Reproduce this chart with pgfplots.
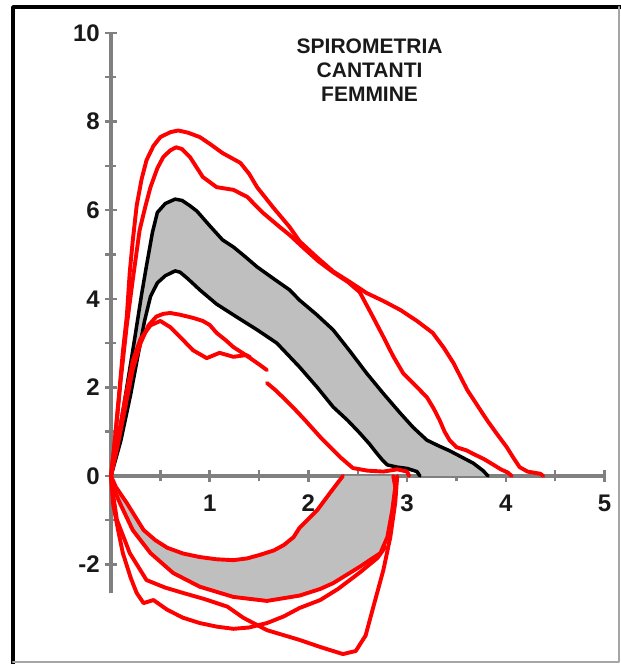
\documentclass[border=0pt]{standalone}
\usepackage{pgfplots}
\pgfplotsset{compat=1.18}
\usepackage{pgfplotstable}
\usepgfplotslibrary{fillbetween}
\usepackage{fontspec}
\setmainfont{Liberation Sans}

\definecolor{band}{RGB}{191,191,191}
\definecolor{axisgray}{RGB}{128,128,128}
\definecolor{loopred}{RGB}{255,0,0}

% expiratory band: upper and lower limit
\pgfplotstableread{
x y
0 0
0.08 0.9
0.16 2.0
0.24 3.1
0.31 4.1
0.36 4.75
0.42 5.5
0.47 5.95
0.55 6.15
0.65 6.25
0.72 6.22
0.80 6.10
0.87 5.98
1.00 5.65
1.13 5.33
1.24 5.17
1.36 4.95
1.48 4.72
1.65 4.45
1.81 4.20
1.91 3.97
2.08 3.65
2.25 3.30
2.42 2.82
2.59 2.32
2.76 1.86
2.93 1.42
3.06 1.10
3.20 0.81
3.32 0.68
3.43 0.57
3.55 0.43
3.67 0.29
3.77 0.12
3.82 0
}\expUpper

\pgfplotstableread{
x y
0 0
0.10 0.8
0.20 1.85
0.28 2.8
0.34 3.5
0.40 4.05
0.47 4.36
0.55 4.52
0.65 4.63
0.70 4.60
0.78 4.45
0.90 4.20
1.07 3.88
1.28 3.58
1.48 3.30
1.68 3.00
1.91 2.46
2.09 2.00
2.25 1.56
2.40 1.25
2.52 0.97
2.62 0.72
2.69 0.52
2.75 0.36
2.80 0.25
2.90 0.20
3.00 0.17
3.10 0.10
3.13 0
}\expLower

% inspiratory band: upper and lower limit
\pgfplotstableread{
x y
0 0
0.05 -0.25
0.16 -0.61
0.33 -1.22
0.45 -1.45
0.57 -1.62
0.73 -1.75
0.90 -1.83
1.07 -1.88
1.24 -1.90
1.38 -1.86
1.51 -1.78
1.65 -1.68
1.75 -1.56
1.85 -1.38
1.91 -1.17
2.09 -0.77
2.22 -0.38
2.35 0
}\inspA

\pgfplotstableread{
x y
0 0
0.03 -0.30
0.09 -0.61
0.22 -1.22
0.40 -1.74
0.63 -2.19
0.90 -2.50
1.24 -2.73
1.58 -2.82
1.91 -2.70
2.12 -2.55
2.25 -2.42
2.52 -2.05
2.73 -1.74
2.80 -1.38
2.85 -0.77
2.88 -0.25
2.86 0
}\inspB

\begin{document}
\begin{tikzpicture}
\begin{axis}[
  x=98.7pt, y=44.3pt,
  xmin=0, xmax=5, ymin=-2.65, ymax=10,
  axis lines=middle,
  axis line style={axisgray, line width=4pt, -},
  clip=false,
  hide obscured x ticks=false, hide obscured y ticks=false,
  xtick={1,2,3,4,5}, xticklabels={1,2,3,4,5},
  ytick={-2,0,2,4,6,8,10}, yticklabels={-2,0,2,4,6,8,10},
  minor xtick={0.5,1.5,2.5,3.5,4.5},
  minor ytick={-1,1,3,5,7,9},
  tick align=center,
  major tick length=12pt, minor tick length=11pt,
  every tick/.style={axisgray, line width=2.4pt},
  ticklabel style={font=\fontsize{24}{26}\selectfont\bfseries, text=black!90, inner sep=0pt},
  yticklabel style={anchor=east, xshift=-5pt},
  xticklabel style={anchor=north, yshift=-13pt},
  line join=round, line cap=round,
]
% invisible outlines for the shaded bands
\addplot[draw=none, name path=eu] table {\expUpper};
\addplot[draw=none, name path=el] table {\expLower};
\addplot[draw=none, name path=ia] table {\inspA};
\addplot[draw=none, name path=ib] table {\inspB};
\addplot[band] fill between[of=eu and el];
\addplot[band] fill between[of=ia and ib];

% band limits
\addplot[black, line width=3.5pt] table {\expUpper};
\addplot[black, line width=3.5pt] table {\expLower};

% individual flow-volume loops
\addplot[loopred, line width=3.9pt] coordinates {
(0,0) (0.03,0.6) (0.08,1.8) (0.12,2.8) (0.16,3.6) (0.19,4.6) (0.22,5.3)
(0.26,6.1) (0.31,6.7) (0.36,7.13) (0.43,7.45) (0.50,7.65) (0.60,7.76)
(0.68,7.80) (0.78,7.75) (0.90,7.65) (1.00,7.50) (1.13,7.29) (1.31,7.07)
(1.40,6.82) (1.48,6.52) (1.64,6.07) (1.81,5.62) (1.91,5.30) (2.08,4.95)
(2.25,4.62) (2.42,4.38) (2.59,4.13) (2.76,3.95) (2.93,3.75) (3.10,3.50)
(3.26,3.23) (3.37,2.90) (3.47,2.55) (3.55,2.20) (3.61,1.94) (3.71,1.60)
(3.81,1.26) (3.91,0.95) (4.01,0.65) (4.08,0.40) (4.14,0.20) (4.22,0.10)
(4.35,0.05) (4.38,0)};
\addplot[loopred, line width=3.9pt] coordinates {
(0,0) (0.04,0.8) (0.10,2.2) (0.16,3.4) (0.22,4.42) (0.29,5.55) (0.35,6.10)
(0.40,6.52) (0.47,6.95) (0.53,7.20) (0.60,7.35) (0.66,7.42) (0.72,7.38)
(0.80,7.20) (0.93,6.75) (1.07,6.52) (1.24,6.46) (1.38,6.30) (1.54,5.94)
(1.71,5.62) (1.81,5.44) (1.95,5.15) (2.10,4.85) (2.25,4.60) (2.40,4.38)
(2.52,4.15) (2.64,3.65) (2.76,3.14) (2.86,2.70) (2.96,2.32) (3.08,2.05)
(3.20,1.78) (3.27,1.52) (3.33,1.26) (3.38,1.00) (3.43,0.81) (3.50,0.65)
(3.60,0.58) (3.67,0.50) (3.78,0.38) (3.87,0.26) (3.95,0.15) (4.02,0.08)
(4.06,0)};
\addplot[loopred, line width=3.9pt] coordinates {
(0,0) (0.06,0.6) (0.14,1.5) (0.22,2.4) (0.30,3.0) (0.38,3.4) (0.46,3.6)
(0.53,3.66) (0.60,3.68) (0.70,3.64) (0.83,3.57) (0.93,3.50) (1.00,3.41)
(1.07,3.23) (1.16,3.07) (1.24,2.91) (1.33,2.78) (1.41,2.66) (1.50,2.52)
(1.58,2.39)};
\addplot[loopred, line width=3.9pt] coordinates {
(1.58,2.10) (1.66,1.95) (1.74,1.78) (1.84,1.56) (1.95,1.30) (2.12,0.88)
(2.32,0.43) (2.45,0.18) (2.60,0.12) (2.76,0.10) (2.90,0.15) (3.00,0.10)
(3.02,0)};
\addplot[loopred, line width=3.9pt] coordinates {
(0,0) (0.06,0.7) (0.14,1.7) (0.22,2.6) (0.30,3.1) (0.40,3.4) (0.50,3.50)
(0.60,3.36) (0.70,3.14) (0.83,2.84) (0.97,2.66) (1.10,2.78) (1.24,2.69)
(1.37,2.73) (1.41,2.68)};

% inspiratory limbs
\addplot[loopred, line width=3.9pt] table {\inspA};
\addplot[loopred, line width=3.9pt] table {\inspB};
\addplot[loopred, line width=3.9pt] coordinates {
(0,0) (0.02,-0.40) (0.06,-0.99) (0.19,-1.74) (0.36,-2.35) (0.55,-2.52)
(0.73,-2.64) (0.95,-2.78) (1.18,-2.95) (1.34,-3.20) (1.58,-3.48)
(1.91,-3.70) (2.12,-3.86) (2.35,-4.02) (2.48,-3.95) (2.58,-3.60)
(2.65,-3.02) (2.76,-2.12) (2.83,-1.38) (2.88,-0.60) (2.90,0)};
\addplot[loopred, line width=3.9pt] coordinates {
(0,0) (0.01,-0.30) (0.02,-0.61) (0.07,-1.20) (0.12,-1.74) (0.20,-2.30)
(0.26,-2.64) (0.33,-2.87) (0.43,-2.80) (0.57,-3.02) (0.73,-3.20)
(0.90,-3.32) (1.07,-3.40) (1.24,-3.45) (1.40,-3.42) (1.58,-3.32)
(1.75,-3.17) (1.91,-2.98) (2.12,-2.80) (2.30,-2.55) (2.52,-2.18)
(2.70,-1.85) (2.78,-1.60)};

% title
\node[align=center, font=\fontsize{21}{24}\selectfont\bfseries, text=black!90]
  at (axis cs:2.62,9.15) {SPIROMETRIA\\CANTANTI\\FEMMINE};

% frame
\draw[black, line width=3.5pt] (axis cs:-0.993,-4.244) -- (axis cs:-0.993,10.587) -- (axis cs:5.1672,10.587);
\draw[black!35, line width=2pt] (axis cs:5.147,10.587) -- (axis cs:5.147,-4.199) -- (axis cs:-0.993,-4.199);

\coordinate (bbsw) at (axis cs:-1.1246,-4.244);
\coordinate (bbne) at (axis cs:5.1672,10.745);
\end{axis}
\pgfresetboundingbox
\path[use as bounding box] (bbsw) rectangle (bbne);
\end{tikzpicture}
\end{document}
